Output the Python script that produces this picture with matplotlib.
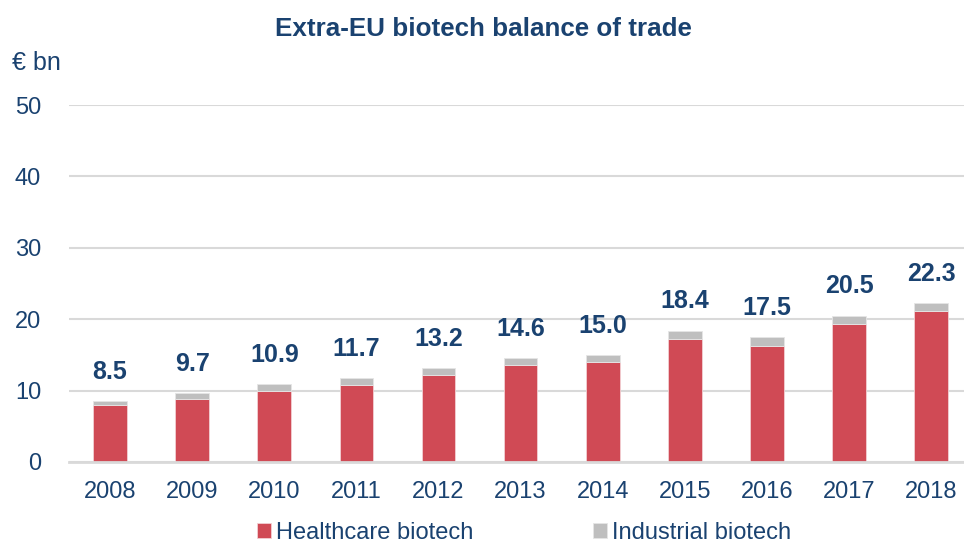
import matplotlib.pyplot as plt
import numpy as np

plt.rcParams['font.family'] = ['Liberation Sans', 'DejaVu Sans']

years = ['2008', '2009', '2010', '2011', '2012', '2013', '2014', '2015', '2016', '2017', '2018']
healthcare = [8.0, 8.8, 10.0, 10.8, 12.2, 13.6, 14.0, 17.2, 16.3, 19.3, 21.2]
industrial = [0.5, 0.9, 0.9, 0.9, 1.0, 1.0, 1.0, 1.2, 1.2, 1.2, 1.1]
totals = [8.5, 9.7, 10.9, 11.7, 13.2, 14.6, 15.0, 18.4, 17.5, 20.5, 22.3]

navy = '#1A4270'
red = '#D04A55'
grey = '#BFBFBF'

fig = plt.figure(figsize=(9.64, 5.45), dpi=100)
ax = fig.add_axes([69 / 964, 83 / 545, (964 - 69) / 964, 357 / 545])

x = np.arange(len(years))
w = 0.41
ax.bar(x, healthcare, w, color=red, edgecolor='#F2D0D3', linewidth=0.6,
       label='Healthcare biotech', zorder=3)
ax.bar(x, industrial, w, bottom=healthcare, color=grey, edgecolor='#E6E6E6',
       linewidth=0.6, label='Industrial biotech', zorder=3)

for xi, t in zip(x, totals):
    ax.annotate(f'{t:.1f}', (xi, t), xytext=(0, 21), textcoords='offset points',
                ha='center', va='center', fontsize=18, fontweight='bold', color=navy)

ax.set_ylim(0, 50)
ax.set_xlim(-0.5, 10.4)
ax.set_yticks(range(0, 51, 10))
ax.set_xticks(x)
ax.set_xticklabels(years)
ax.tick_params(axis='both', length=0, labelsize=17, labelcolor=navy)
ax.tick_params(axis='y', pad=20)
ax.tick_params(axis='x', pad=14)
ax.yaxis.grid(True, color='#D9D9D9', linewidth=1.5, zorder=0)
for s in ['top', 'right', 'left']:
    ax.spines[s].set_visible(False)
ax.spines['bottom'].set_color('#D9D9D9')
ax.spines['bottom'].set_linewidth(2)
ax.spines['bottom'].set_zorder(4)

fig.text(483 / 964, 1 - 29 / 545, 'Extra-EU biotech balance of trade', ha='center', va='center',
         fontsize=18.7, fontweight='bold', color=navy)
fig.text(12 / 964, 1 - 63 / 545, '€ bn', ha='left', va='center', fontsize=18, color=navy)

leg = fig.legend(loc='center', bbox_to_anchor=(524 / 964, 12 / 545), ncol=2, frameon=False,
                 fontsize=17, handlelength=0.6, handleheight=0.6, handletextpad=0.2,
                 columnspacing=5.1, borderpad=0)
for t in leg.get_texts():
    t.set_color(navy)

fig.savefig('out.png', dpi=100)
